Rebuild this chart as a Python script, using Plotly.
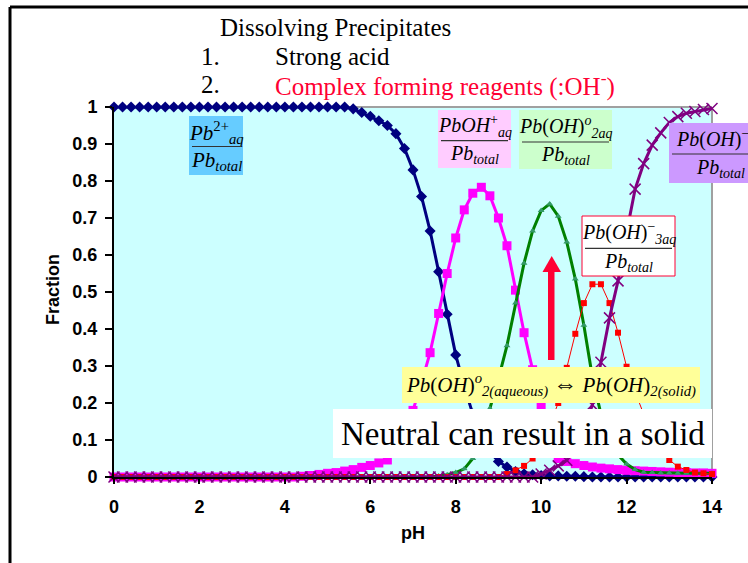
import plotly.graph_objects as go

# ---------------- data ----------------
pH = [0.0, 0.2, 0.4, 0.6, 0.8, 1.0, 1.2, 1.4, 1.6, 1.8,
      2.0, 2.2, 2.4, 2.6, 2.8, 3.0, 3.2, 3.4, 3.6, 3.8,
      4.0, 4.2, 4.4, 4.6, 4.8, 5.0, 5.2, 5.4, 5.6, 5.8,
      6.0, 6.2, 6.4, 6.6, 6.8, 7.0, 7.2, 7.4, 7.6, 7.8,
      8.0, 8.2, 8.4, 8.6, 8.8, 9.0, 9.2, 9.4, 9.6, 9.8,
      10.0, 10.2, 10.4, 10.6, 10.8, 11.0, 11.2, 11.4, 11.6, 11.8,
      12.0, 12.2, 12.4, 12.6, 12.8, 13.0, 13.2, 13.4, 13.6, 13.8, 14.0]

pb2 = [1.0] * 28 + [0.995, 0.985, 0.975, 0.963, 0.95, 0.928, 0.888, 0.83, 0.758, 0.665,
                    0.555, 0.44, 0.33, 0.245, 0.17, 0.11, 0.068, 0.042, 0.027, 0.015,
                    0.009, 0.006, 0.004, 0.003, 0.003, 0.002, 0.002, 0.001] + [0.0] * 15

pboh = [0.0] * 22 + [0.002, 0.004, 0.007,
                     0.01, 0.012, 0.016, 0.02, 0.026, 0.031, 0.038, 0.046, 0.07, 0.115,
                     0.18, 0.255, 0.336, 0.442, 0.55, 0.646, 0.722, 0.767, 0.783, 0.76,
                     0.70, 0.625, 0.505, 0.39, 0.29, 0.195, 0.11, 0.05, 0.042, 0.036,
                     0.031, 0.027, 0.024, 0.022, 0.02, 0.018, 0.017, 0.016, 0.015, 0.014,
                     0.013, 0.012, 0.012, 0.011, 0.011, 0.01]

pboh2 = [0.0] * 38 + [0.003, 0.006, 0.012, 0.022, 0.05, 0.11, 0.185, 0.265, 0.355, 0.47,
                      0.578, 0.665, 0.72, 0.738, 0.705, 0.635, 0.535, 0.41, 0.27, 0.17,
                      0.1, 0.06, 0.035, 0.02, 0.013, 0.012, 0.011, 0.011, 0.01, 0.01,
                      0.01, 0.01, 0.01]

pboh3 = [0.0] * 46 + [0.008, 0.018, 0.03, 0.05, 0.088, 0.14, 0.2, 0.295, 0.387, 0.47,
                      0.521, 0.521, 0.47, 0.39, 0.298, 0.23, 0.17, 0.12, 0.075, 0.046,
                      0.028, 0.019, 0.012, 0.01, 0.008]

pboh4 = [0.0] * 50 + [0.008, 0.018, 0.03, 0.045, 0.08, 0.13, 0.195, 0.31, 0.43, 0.53,
                      0.66, 0.778, 0.847, 0.897, 0.93, 0.958, 0.974, 0.983, 0.988, 0.993,
                      0.996]

x_ticks = [0, 2, 4, 6, 8, 10, 12, 14]

# ---------------- geometry helpers ----------------
L, T, W, H = 114, 107, 598, 370
WIDTH, HEIGHT = 748, 563


def px(x):
    return (x - L) / W


def py(y):
    return (T + H - y) / H


SERIF = "Liberation Serif, Times New Roman, serif"
SANS = "Liberation Sans, Arial, sans-serif"
RED = "#FF0033"

fig = go.Figure()

fig.add_trace(go.Scatter(x=pH, y=pb2, mode="lines+markers", cliponaxis=False,
                         line=dict(color="#000080", width=3),
                         marker=dict(symbol="diamond", size=8.5, color="#000080")))
fig.add_trace(go.Scatter(x=pH, y=pboh, mode="lines+markers", cliponaxis=False,
                         line=dict(color="#FF00FF", width=3),
                         marker=dict(symbol="square", size=9, color="#FF00FF")))
fig.add_trace(go.Scatter(x=pH, y=pboh2, mode="lines+markers", cliponaxis=False,
                         line=dict(color="#008000", width=3),
                         marker=dict(symbol="triangle-up", size=6, color="#339966")))
fig.add_trace(go.Scatter(x=pH, y=pboh3, mode="lines+markers", cliponaxis=False,
                         line=dict(color="#FF0000", width=1),
                         marker=dict(symbol="square", size=6, color="#FF0000")))
fig.add_trace(go.Scatter(x=pH, y=pboh4, mode="lines+markers", cliponaxis=False,
                         line=dict(color="#800080", width=3),
                         marker=dict(symbol="x-thin", size=11, color="#800080",
                                     line=dict(color="#800080", width=1.5))))

shapes = []
annotations = []

# slide frame
shapes.append(dict(type="line", xref="paper", yref="paper", x0=px(10), y0=py(7), x1=px(770), y1=py(7),
                   line=dict(color="black", width=3)))
shapes.append(dict(type="line", xref="paper", yref="paper", x0=px(10), y0=py(7), x1=px(10), y1=py(580),
                   line=dict(color="black", width=3)))
# plot-area grey border (top/right)
shapes.append(dict(type="line", xref="paper", yref="paper", x0=0, y0=1, x1=1, y1=1,
                   line=dict(color="#A0A0A0", width=2), layer="below"))
shapes.append(dict(type="line", xref="paper", yref="paper", x0=1, y0=0, x1=1, y1=1,
                   line=dict(color="#A0A0A0", width=2), layer="below"))


def text(x, y, s, size, color="black", family=SERIF, xanchor="center", weight="normal"):
    annotations.append(dict(x=px(x), y=py(y), xref="paper", yref="paper", text=s, showarrow=False,
                            xanchor=xanchor, yanchor="middle",
                            font=dict(size=size, color=color, family=family, weight=weight)))


def box(x0, y0, x1, y1, fill, border=None):
    shapes.append(dict(type="rect", xref="paper", yref="paper", x0=px(x0), y0=py(y0), x1=px(x1), y1=py(y1),
                       fillcolor=fill, layer="above",
                       line=dict(color=border if border else fill, width=1 if border else 0)))


def frac_box(x0, y0, x1, y1, fill, num, den, ly, border=None, num_x=None, den_x=None,
             num_anchor="center", size=20):
    box(x0, y0, x1, y1, fill, border)
    shapes.append(dict(type="line", xref="paper", yref="paper", x0=px(x0 + 3), y0=py(ly), x1=px(x1 - 3), y1=py(ly),
                       line=dict(color="#333333", width=1.2), layer="above"))
    cx = (x0 + x1) / 2
    text(num_x if num_x else cx, (y0 + ly) / 2 + 1, num, size, xanchor=num_anchor)
    text(den_x if den_x else cx, (ly + y1) / 2, den, size)


den_txt = "<i>Pb</i><sub><i>total</i></sub>"

frac_box(189, 116, 243, 175, "#66CCFF", "<i>Pb</i><sup>2+</sup><sub><i>aq</i></sub>", den_txt, 146.5, size=21)
frac_box(438, 110, 511, 168, "#FFCCFF", "<i>PbOH</i><sup>+</sup><sub><i>aq</i></sub>", den_txt, 140.7)
frac_box(519, 110, 612, 169, "#CCFFCC", "<i>Pb</i>(<i>OH</i>)<sup><i>o</i></sup><sub><i>2aq</i></sub>", den_txt, 142)
frac_box(669, 123, 790, 183, "#CC99FF", "<i>Pb</i>(<i>OH</i>)<sup>\u22122</sup><sub><i>4aq</i></sub>", den_txt, 154,
         num_x=674, den_x=720, num_anchor="left")
frac_box(582, 216, 675, 276, "white", "<i>Pb</i>(<i>OH</i>)<sup>\u2212</sup><sub><i>3aq</i></sub>", den_txt, 248.3,
         border=RED)

# yellow equilibrium box
box(402, 367, 700, 403, "#FFFF99")
text(551, 385,
     "<i>Pb</i>(<i>OH</i>)<sup><i>o</i></sup><sub><i>2(aqueous)</i></sub> <span style='font-size:24px'>\u21D4</span> "
     "<i>Pb</i>(<i>OH</i>)<sub><i>2(solid)</i></sub>",
     21)

# white "Neutral" box
box(333, 409, 712, 458, "white")
text(523, 434, "Neutral can result in a solid", 33)

# red arrow
shapes.append(dict(type="rect", xref="paper", yref="paper", x0=px(548), y0=py(360), x1=px(554.5), y1=py(270),
                   fillcolor=RED, line=dict(width=0), layer="above"))
shapes.append(dict(type="path", xref="paper", yref="paper",
                   path=f"M {px(542.5)},{py(272)} L {px(561)},{py(272)} L {px(551.7)},{py(256)} Z",
                   fillcolor=RED, line=dict(width=0), layer="above"))

# titles
text(218, 27, "Dissolving Precipitates", 25, xanchor="left")
text(199, 56, "1.", 25, xanchor="left")
text(273, 56, "Strong acid", 25, xanchor="left")
text(199, 85, "2.", 25, xanchor="left")
text(273, 85, "Complex forming reagents (:OH<sup>-</sup>)", 25, color=RED, xanchor="left")

# axis titles
annotations.append(dict(x=px(53), y=py(290), xref="paper", yref="paper", text="Fraction", showarrow=False,
                        textangle=-90, xanchor="center", yanchor="middle",
                        font=dict(size=18, family=SANS, weight="bold", color="black")))
text(413, 533, "pH", 18, family=SANS, weight="bold")

fig.update_layout(
    width=WIDTH, height=HEIGHT,
    margin=dict(l=L, r=WIDTH - L - W, t=T, b=HEIGHT - T - H, pad=0),
    paper_bgcolor="white", plot_bgcolor="#CCFFFF",
    showlegend=False,
    shapes=shapes, annotations=annotations,
    xaxis=dict(range=[0, 14], tickvals=x_ticks, ticks="outside", ticklen=5, tickwidth=1.5, tickcolor="black",
               showline=True, linecolor="black", linewidth=2, showgrid=False, zeroline=False,
               ticklabelstandoff=7,
               tickfont=dict(size=18, family=SANS, weight="bold", color="black")),
    yaxis=dict(range=[0, 1], dtick=0.1, ticks="outside", ticklen=7, tickwidth=2, tickcolor="black",
               showline=True, linecolor="black", linewidth=2, showgrid=False, zeroline=False,
               ticklabelstandoff=4,
               tickfont=dict(size=18, family=SANS, weight="bold", color="black")),
)

fig.write_html("out.html")
